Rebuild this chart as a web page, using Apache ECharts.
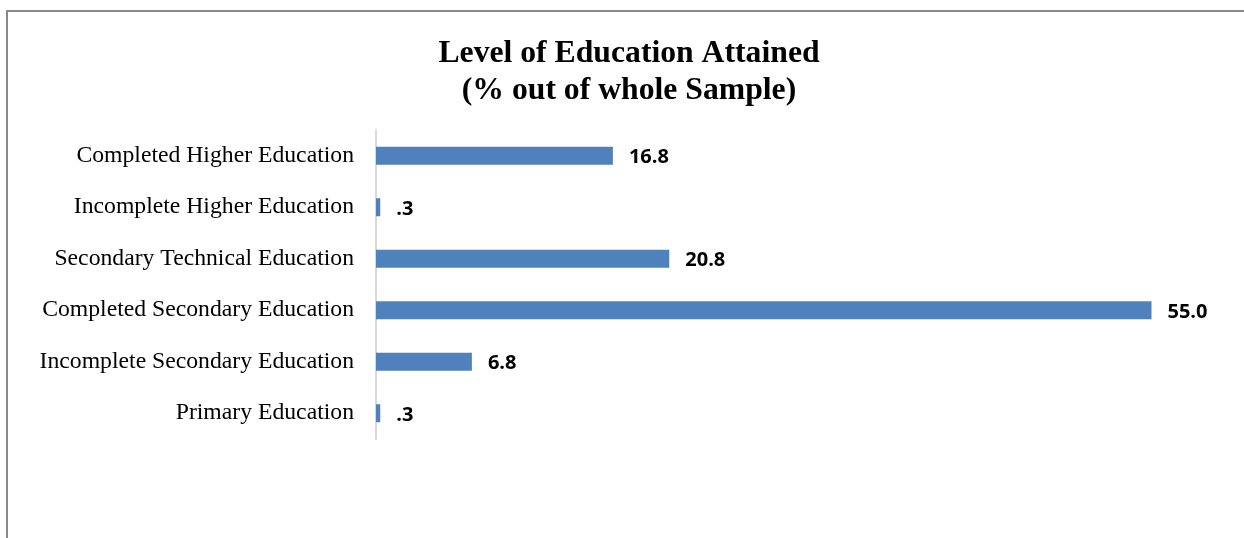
<!DOCTYPE html>
<html>
<head>
<meta charset="utf-8">
<style>
  html, body { margin: 0; padding: 0; background: #fff; }
  #frame { position: absolute; left: 6px; top: 10px; width: 1238px; height: 528px;
           border-top: 2px solid #898989; border-left: 2px solid #898989; }
  #chart { position: absolute; left: 0; top: 0; width: 1244px; height: 538px; }
</style>
<script src="https://cdn.jsdelivr.net/npm/echarts@6/dist/echarts.min.js"></script>
</head>
<body>
<div id="frame"></div>
<div id="chart"></div>
<script>
// Education levels, listed bottom to top as the category axis draws them
const categories = [
  'Primary Education',
  'Incomplete Secondary Education',
  'Completed Secondary Education',
  'Secondary Technical Education',
  'Incomplete Higher Education',
  'Completed Higher Education'
];
// Share of the whole sample, in percent
const shares = [0.3, 6.8, 55.0, 20.8, 0.3, 16.8];

const titleLines = ['Level of Education Attained', '(% out of whole Sample)'];

function fmtShare(v) {
  const s = v.toFixed(1);
  return s.startsWith('0.') ? s.slice(1) : s;
}

const chart = echarts.init(document.getElementById('chart'), null, { renderer: 'canvas' });
chart.setOption({
  animation: false,
  backgroundColor: 'transparent',
  title: {
    text: titleLines.join('\n'),
    left: 624,
    textAlign: 'center',
    top: 30,
    textStyle: {
      fontFamily: 'Liberation Serif',
      fontWeight: 'bold',
      fontSize: 31.7,
      lineHeight: 37,
      color: '#000'
    }
  },
  grid: { left: 376, right: 22, top: 130, height: 309, containLabel: false },
  xAxis: {
    type: 'value',
    min: 0,
    max: 60,
    show: false
  },
  yAxis: {
    type: 'category',
    data: categories,
    axisLine: { show: true, lineStyle: { color: '#d9d9d9', width: 2 } },
    axisTick: { show: false },
    axisLabel: {
      margin: 22,
      fontFamily: 'Liberation Serif',
      fontSize: 23.7,
      color: '#000',
      padding: [3, 0, 0, 0]
    }
  },
  series: [{
    type: 'bar',
    data: shares,
    barWidth: 18,
    itemStyle: { color: '#4f81bd' },
    label: {
      show: true,
      position: 'right',
      distance: 16,
      offset: [0, 2],
      formatter: p => fmtShare(p.value),
      fontFamily: 'Open Sans',
      fontWeight: 'bold',
      fontSize: 20,
      color: '#000'
    }
  }]
});
</script>
</body>
</html>
